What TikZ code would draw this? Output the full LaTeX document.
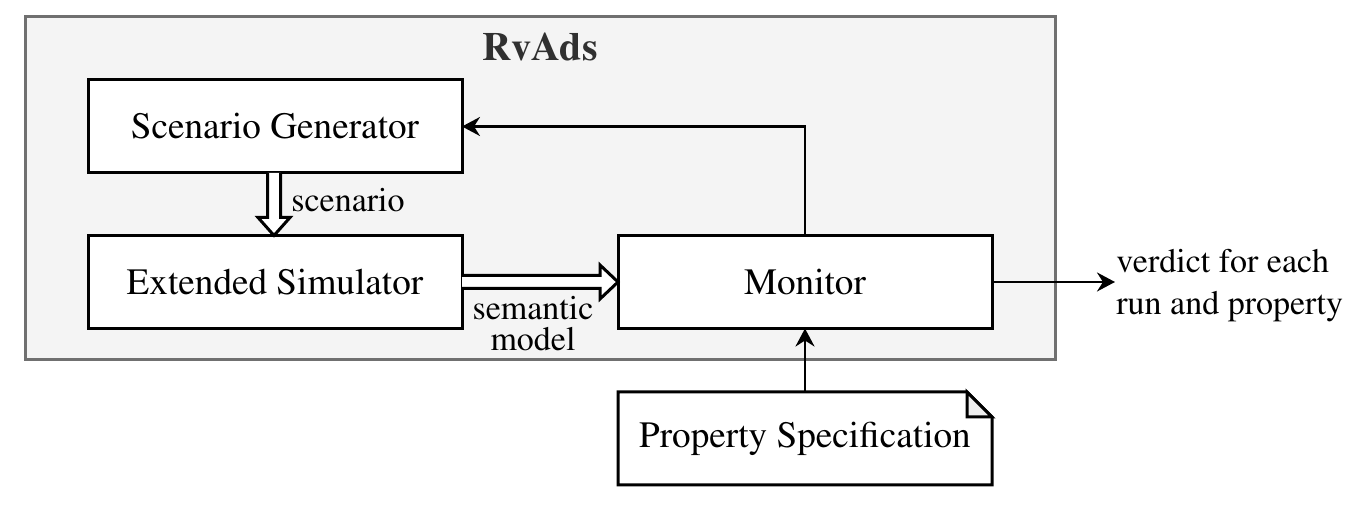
\documentclass[tikz,border=0pt]{standalone}
\usepackage[T1]{fontenc}
\renewcommand{\rmdefault}{ptm}
\usetikzlibrary{arrows.meta,calc}
\definecolor{panelfill}{HTML}{F4F4F4}
\definecolor{panelline}{HTML}{707070}
\definecolor{foldfill}{HTML}{EEEEEE}
\definecolor{titlecol}{HTML}{303030}
\begin{document}
\begin{tikzpicture}[x=0.5pt,y=-0.5pt,
  box/.style={draw,line width=1.5pt,fill=white,minimum width=187pt,minimum height=46.5pt,inner sep=0pt,outer sep=0pt,font=\fontsize{18.6}{22}\selectfont},
  docbox/.style={minimum width=187pt,minimum height=46.5pt,inner sep=0pt,outer sep=0pt,font=\fontsize{18.6}{22}\selectfont},
  lbl/.style={inner sep=0pt,font=\fontsize{17}{15.5}\selectfont},
  conn/.style={line width=1.3pt,-{Stealth[length=9pt,width=9.5pt,inset=3pt]}},
  hollow/.style={line width=1.5pt,fill=white,line join=miter}]
\useasboundingbox (0,0) rectangle (1362,506);
% panel
\draw[panelline,fill=panelfill,line width=1.5pt] (25,17) rectangle (1055,360);
\node[inner sep=0pt,text=titlecol,font=\fontsize{20}{24}\selectfont\bfseries] (title) at (540,47) {RvAds};
% boxes
\node[box] (sg) at (275,126.5) {Scenario Generator};
\node[box] (es) at (275,282) {Extended Simulator};
\node[box] (mon) at (805,282) {Monitor};
\coordinate (psc) at (805,438.5);
\path (psc) node[docbox] (ps) {};
\draw[line width=1.5pt,line join=miter,fill=white]
  (ps.south west) -- (ps.north west) -- ($(ps.north east)+(-25,0)$) -- ($(ps.north east)+(0,25)$) -- (ps.south east) -- cycle;
\draw[line width=1.5pt,line join=miter,fill=foldfill]
  ($(ps.north east)+(-25,0)$) -- ($(ps.north east)+(-25,25)$) -- ($(ps.north east)+(0,25)$) -- cycle;
\node[docbox] (pstext) at (ps.center) {Property Specification};
% hollow arrows
\draw[hollow] ($(sg.south)+(-7.5,0)$) -- ($(es.north)+(-7.5,-18)$) -- ($(es.north)+(-17,-18)$) -- ($(es.north)+(-1,0)$)
  -- ($(es.north)+(15,-18)$) -- ($(es.north)+(5.5,-18)$) -- ($(sg.south)+(5.5,0)$);
\node[lbl,anchor=west] (scen) at (291,200) {scenario};
\draw[hollow] ($(es.east)+(0,-6.5)$) -- ($(mon.west)+(-18,-6.5)$) -- ($(mon.west)+(-18,-17)$) -- ($(mon.west)+(0,0)$)
  -- ($(mon.west)+(-18,17)$) -- ($(mon.west)+(-18,6.5)$) -- ($(es.east)+(0,6.5)$);
\node[lbl,align=center] (sem) at (533,324) {semantic\\model};
% connectors
\draw[conn] (mon.north) -- (mon.north |- sg.east) -- (sg.east);
\draw[conn] (ps.north) -- (mon.south);
\node[inner sep=0pt,align=left,anchor=west,font=\fontsize{17}{21}\selectfont] (verdict) at (1116,286) {verdict for each\\run and property};
\draw[conn] (mon.east) -- ($(verdict.west |- mon.east)+(-1,0)$);
\end{tikzpicture}
\end{document}
